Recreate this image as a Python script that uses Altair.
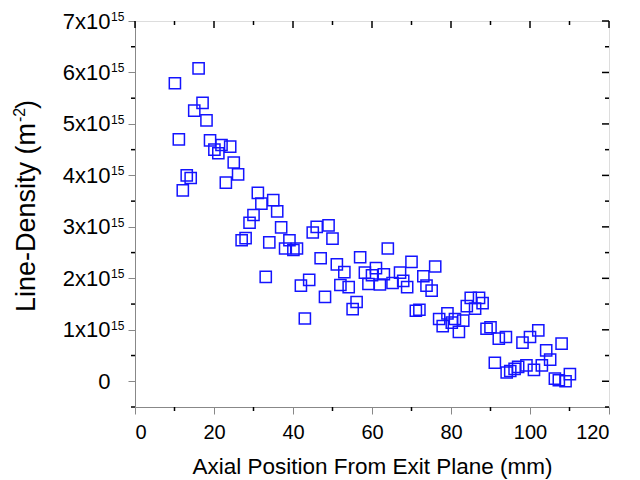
import altair as alt
import pandas as pd

# Axial position (mm) and measured line density (m^-2)
x_mm = [10.1, 11.1, 12.1, 13.1, 14.1, 15.0, 16.1, 17.1, 18.1, 19.0,
        20.1, 21.1, 21.9, 23.0, 24.1, 25.0, 26.1, 27.0, 28.0, 29.0,
        30.0, 31.1, 32.0, 33.1, 34.0, 35.0, 36.0, 37.0, 38.0, 39.1,
        40.1, 41.0, 42.0, 43.0, 44.1, 45.0, 46.0, 47.0, 48.1, 49.0,
        50.0, 51.1, 52.0, 53.0, 54.1, 55.1, 56.1, 57.0, 58.2, 59.1,
        60.0, 61.0, 62.0, 63.0, 64.0, 65.2, 67.1, 67.9, 68.9, 70.0,
        71.1, 72.0, 73.0, 73.8, 75.1, 76.0, 77.0, 77.9, 79.1, 80.2,
        81.0, 82.0, 83.1, 84.0, 85.0, 86.1, 87.1, 88.0, 89.0, 90.0,
        91.1, 92.1, 93.9, 94.1, 95.0, 96.1, 97.0, 98.1, 99.1, 100.0,
        101.0, 102.1, 103.0, 104.1, 105.1, 106.3, 107.3, 108.0, 109.0, 110.1]
density = [5.79e15, 4.70e15, 3.71e15, 4.00e15, 3.95e15, 5.26e15, 6.08e15, 5.41e15, 5.07e15, 4.68e15,
           4.50e15, 4.43e15, 4.59e15, 3.86e15, 4.56e15, 4.25e15, 4.02e15, 2.74e15, 2.78e15, 3.08e15,
           3.23e15, 3.66e15, 3.45e15, 2.03e15, 2.70e15, 3.52e15, 3.30e15, 2.99e15, 2.58e15, 2.74e15,
           2.55e15, 2.58e15, 1.86e15, 1.22e15, 1.97e15, 2.89e15, 3.00e15, 2.39e15, 1.64e15, 3.03e15,
           2.77e15, 2.27e15, 1.87e15, 2.12e15, 1.83e15, 1.40e15, 1.54e15, 2.41e15, 2.11e15, 1.89e15,
           2.06e15, 2.20e15, 1.88e15, 2.08e15, 2.58e15, 1.91e15, 2.11e15, 1.95e15, 1.83e15, 2.32e15,
           1.37e15, 1.39e15, 2.04e15, 1.86e15, 1.76e15, 2.23e15, 1.21e15, 1.07e15, 1.32e15, 1.14e15,
           1.21e15, 0.96e15, 1.18e15, 1.46e15, 1.62e15, 1.41e15, 1.62e15, 1.52e15, 1.02e15, 1.05e15,
           0.36e15, 0.83e15, 0.86e15, 0.17e15, 0.20e15, 0.24e15, 0.28e15, 0.75e15, 0.31e15, 0.86e15,
           0.22e15, 0.99e15, 0.31e15, 0.60e15, 0.42e15, 0.05e15, 0.02e15, 0.73e15, 0.00e15, 0.14e15]

x_major = [0, 20, 40, 60, 80, 100, 120]
x_minor = [10, 30, 50, 70, 90, 110]
y_major = [0, 1e15, 2e15, 3e15, 4e15, 5e15, 6e15, 7e15]
y_minor = [-0.5e15, 0.5e15, 1.5e15, 2.5e15, 3.5e15, 4.5e15, 5.5e15, 6.5e15]
y_exp = [1e15, 2e15, 3e15, 4e15, 5e15, 6e15, 7e15]

W, H = 474, 386
FONT = "Liberation Sans"

xs = alt.Scale(domain=[0, 120], nice=False, zero=False)
ys = alt.Scale(domain=[-0.5e15, 7e15], nice=False, zero=False)

pts = pd.DataFrame({"x": x_mm, "y": density})

scatter = alt.Chart(pts).mark_point(
    shape="square", filled=False, size=125, strokeWidth=1.5, color="#1414ff", opacity=1
).encode(
    x=alt.X("x:Q", scale=xs, axis=alt.Axis(
        values=x_major, title="Axial Position From Exit Plane (mm)", format="d",
        tickSize=7, labelPadding=8, titlePadding=13, titleFontSize=22.5,
        titleFontWeight="normal", labelFontSize=20, grid=False)),
    y=alt.Y("y:Q", scale=ys, axis=alt.Axis(
        values=y_major, title=None, tickSize=7, labelPadding=18, labelFontSize=22,
        labelExpr="datum.value == 0 ? '0' : format(datum.value / 1e15, 'd') + 'x10'",
        grid=False)),
)


def x_ticks(vals, y0, y1):
    return alt.Chart(pd.DataFrame({"x": vals})).mark_rule(
        color="black", strokeWidth=1.5
    ).encode(x=alt.X("x:Q", scale=xs, axis=None), y=alt.value(y0), y2=alt.value(y1))


def y_ticks(vals, x0, x1):
    return alt.Chart(pd.DataFrame({"y": vals})).mark_rule(
        color="black", strokeWidth=1.5
    ).encode(y=alt.Y("y:Q", scale=ys, axis=None), x=alt.value(x0), x2=alt.value(x1))


ticks = [
    x_ticks(x_minor, H, H + 4),      # bottom minor, outward
    x_ticks(x_major, 0, 7),          # top major, inward
    x_ticks(x_minor, 0, 4),          # top minor, inward
    y_ticks(y_minor, -4, 0),         # left minor, outward
    y_ticks(y_major, W - 7, W),      # right major, inward
    y_ticks(y_minor, W - 4, W),      # right minor, inward
]

# exponent of the y tick labels
exps = alt.Chart(pd.DataFrame({"y": y_exp})).mark_text(
    text="15", font=FONT, fontSize=12, align="left", baseline="alphabetic", color="black"
).encode(y=alt.Y("y:Q", scale=ys, axis=None), x=alt.value(-24))

# y axis title with superscript unit exponent
one = pd.DataFrame({"k": [0]})
ytitle_main = alt.Chart(one).mark_text(
    text="Line-Density (m", font=FONT, fontSize=27, angle=270, align="right",
    baseline="alphabetic", color="black"
).encode(x=alt.value(-100), y=alt.value(102))
ytitle_sup = alt.Chart(one).mark_text(
    text="-2", font=FONT, fontSize=16, angle=270, align="left",
    baseline="alphabetic", color="black"
).encode(x=alt.value(-110), y=alt.value(101))
ytitle_end = alt.Chart(one).mark_text(
    text=")", font=FONT, fontSize=27, angle=270, align="left",
    baseline="alphabetic", color="black"
).encode(x=alt.value(-100), y=alt.value(88))

chart = alt.layer(
    scatter, *ticks, exps, ytitle_main, ytitle_sup, ytitle_end
).resolve_axis(
    x="independent", y="independent"
).properties(
    width=W, height=H,
    autosize=alt.AutoSizeParams(type="none"),
    padding={"left": 135, "top": 21, "right": 31, "bottom": 73},
).configure_view(
    stroke="black", strokeWidth=1.5
).configure_axis(
    domainColor="black", domainWidth=1.5, tickColor="black", tickWidth=1.5,
    labelColor="black", titleColor="black", labelFont=FONT, titleFont=FONT,
    titleFontWeight="normal"
).configure(background="white")

chart.save("out.html", embed_options={"renderer": "svg", "actions": False})
